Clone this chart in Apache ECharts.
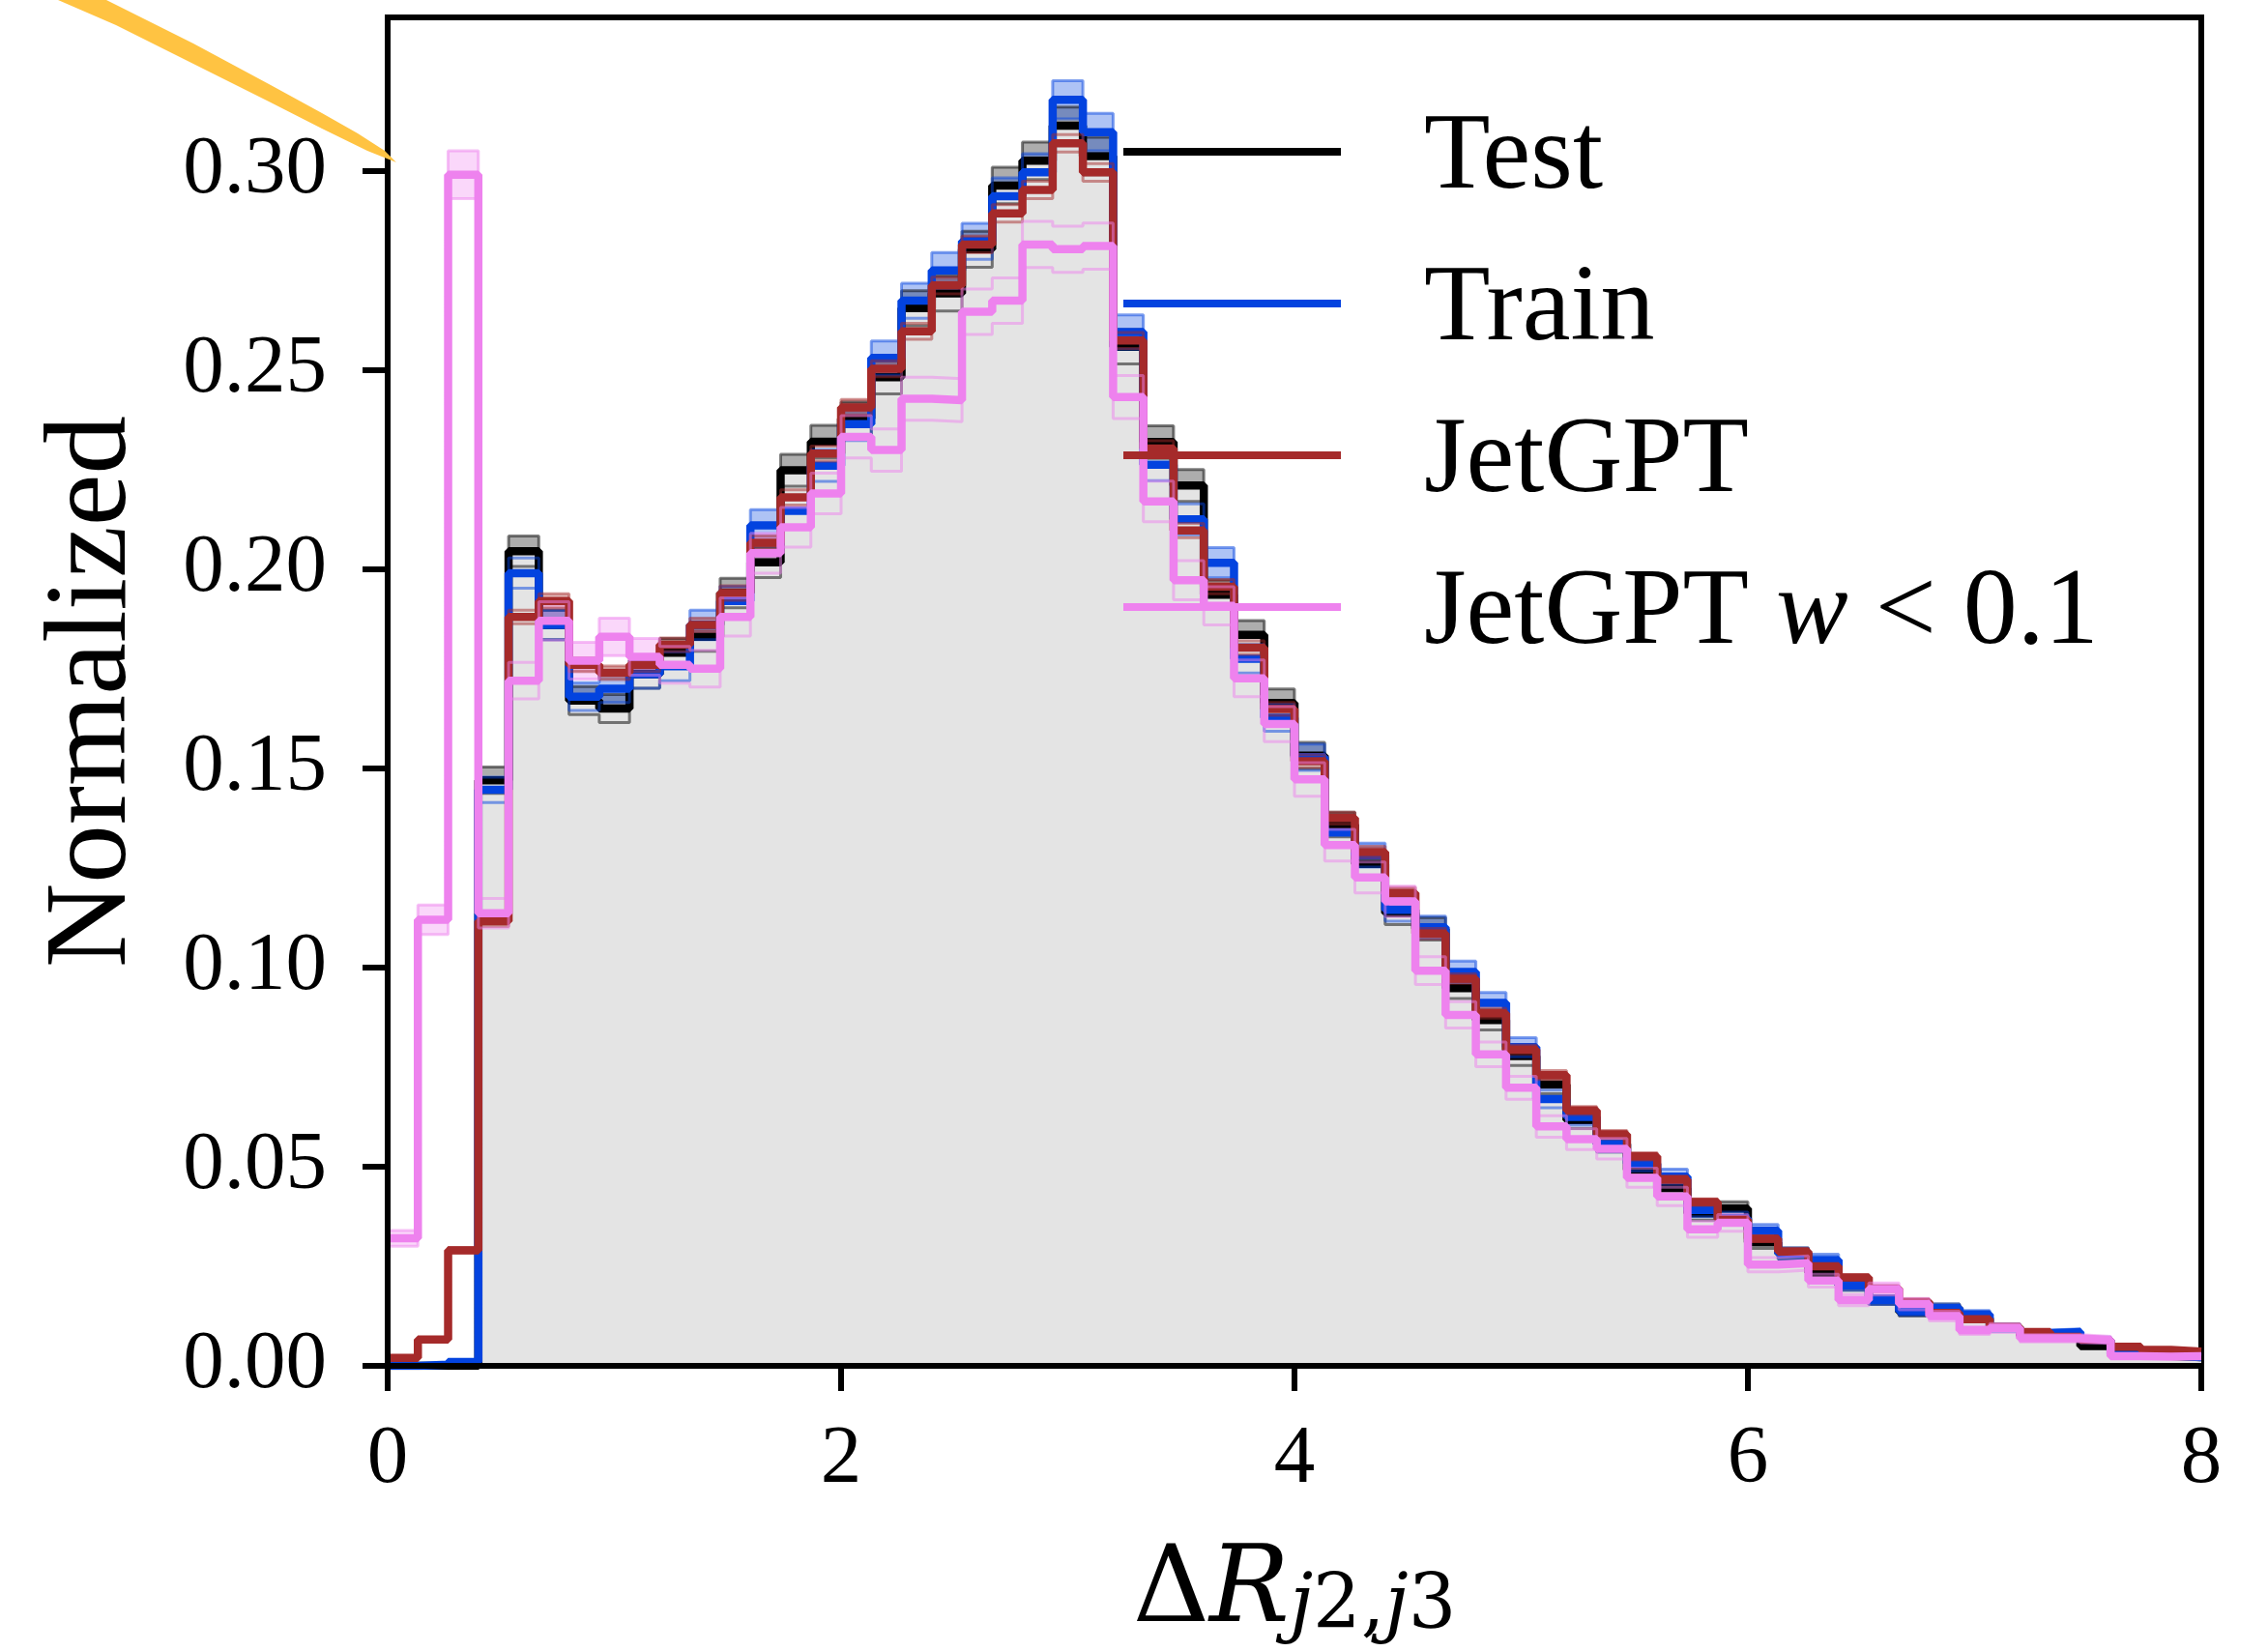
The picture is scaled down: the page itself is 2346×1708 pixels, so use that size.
<!DOCTYPE html>
<html>
<head>
<meta charset="utf-8">
<script src="https://cdn.jsdelivr.net/npm/echarts@6/dist/echarts.min.js"></script>
<style>
  html, body { margin: 0; padding: 0; background: #ffffff; }
  #chart { width: 2346px; height: 1708px; }
</style>
</head>
<body>
<div id="chart"></div>
<script>
// Histogram binning of ΔR(j2,j3): 60 equal bins on [0, 8]
const binRange = [0, 8];
const binCount = 60;

const xTicks = [0, 2, 4, 6, 8];
const yTicks = [0, 0.05, 0.10, 0.15, 0.20, 0.25, 0.30];

// Normalized bin contents
const testVals = [
  0, 0, 0, 0.147, 0.2045, 0.186, 0.167, 0.165, 0.1736, 0.179,
  0.183, 0.194, 0.2017, 0.2248, 0.232, 0.2378, 0.2482, 0.2655, 0.2692, 0.2803,
  0.2963, 0.3025, 0.3113, 0.3037, 0.2558, 0.2319, 0.221, 0.1936, 0.1835, 0.1664,
  0.1532, 0.1359, 0.126, 0.1137, 0.1097, 0.0948, 0.0868, 0.0778, 0.0706, 0.0617,
  0.0557, 0.0492, 0.0446, 0.0383, 0.0395, 0.031, 0.0282, 0.0234, 0.0202, 0.0165,
  0.0135, 0.0145, 0.012, 0.0097, 0.0075, 0.0073, 0.005, 0.0035, 0.0025, 0.0022
];
const trainVals = [
  0, 0.0003, 0.001, 0.1446, 0.199, 0.186, 0.168, 0.170, 0.1736, 0.1756,
  0.186, 0.192, 0.211, 0.2146, 0.226, 0.2364, 0.253, 0.2674, 0.275, 0.2823,
  0.2936, 0.2996, 0.3178, 0.3097, 0.2595, 0.2262, 0.2125, 0.2016, 0.1775, 0.1627,
  0.1528, 0.1339, 0.1282, 0.1145, 0.1101, 0.0989, 0.0911, 0.080, 0.067, 0.0625,
  0.0557, 0.0508, 0.0475, 0.0391, 0.037, 0.0339, 0.0282, 0.0266, 0.0202, 0.0165,
  0.0137, 0.0145, 0.0129, 0.0095, 0.0082, 0.0085, 0.0065, 0.0028, 0.0026, 0.0022
];
const jetVals = [
  0.002, 0.0066, 0.029, 0.1116, 0.188, 0.192, 0.176, 0.174, 0.176, 0.181,
  0.186, 0.194, 0.2066, 0.218, 0.229, 0.2406, 0.2503, 0.2597, 0.2712, 0.2815,
  0.2893, 0.2952, 0.3069, 0.2996, 0.2574, 0.2303, 0.2097, 0.1956, 0.1803, 0.1649,
  0.1518, 0.1375, 0.129, 0.1187, 0.1085, 0.0972, 0.0885, 0.0794, 0.073, 0.0641,
  0.0581, 0.0526, 0.0468, 0.0411, 0.0367, 0.0319, 0.0287, 0.025, 0.0222, 0.0194,
  0.0161, 0.0133, 0.0117, 0.0097, 0.0085, 0.0073, 0.0065, 0.0048, 0.004, 0.0036
];
const jetLowWVals = [
  0.032, 0.112, 0.299, 0.1136, 0.172, 0.187, 0.177, 0.183, 0.178, 0.176,
  0.175, 0.188, 0.204, 0.2105, 0.219, 0.2332, 0.2299, 0.2428, 0.2424, 0.2646,
  0.2674, 0.2815, 0.2803, 0.2811, 0.2432, 0.217, 0.1972, 0.1908, 0.1726, 0.1611,
  0.1472, 0.1307, 0.1226, 0.1166, 0.0992, 0.0881, 0.0782, 0.0698, 0.0601, 0.0569,
  0.0545, 0.0472, 0.0425, 0.0343, 0.0359, 0.0254, 0.0258, 0.0214, 0.0165, 0.0193,
  0.0155, 0.0125, 0.0089, 0.0095, 0.0069, 0.0069, 0.0065, 0.0024, 0.0023, 0.0024
];

// Per-bin uncertainty (half width of the shaded band)
const testErr = [
  0, 0, 0, 0.0033, 0.0038, 0.0037, 0.0035, 0.0035, 0.0035, 0.0036,
  0.0036, 0.0037, 0.0038, 0.0040, 0.0041, 0.0041, 0.0042, 0.0044, 0.0044, 0.0045,
  0.0046, 0.0047, 0.0047, 0.0047, 0.0043, 0.0041, 0.0040, 0.0037, 0.0036, 0.0035,
  0.0033, 0.0031, 0.0030, 0.0029, 0.0028, 0.0026, 0.0025, 0.0024, 0.0023, 0.0021,
  0.0020, 0.0019, 0.0018, 0.0017, 0.0017, 0.0015, 0.0014, 0.0013, 0.0012, 0.0011,
  0.0010, 0.0010, 0.0009, 0.0008, 0.0007, 0.0007, 0.0006, 0.0005, 0.0004, 0.0004
];
const trainErr = [
  0, 0.0002, 0.0003, 0.0032, 0.0038, 0.0037, 0.0035, 0.0035, 0.0035, 0.0036,
  0.0037, 0.0037, 0.0039, 0.0039, 0.0040, 0.0041, 0.0043, 0.0044, 0.0045, 0.0045,
  0.0046, 0.0047, 0.0048, 0.0047, 0.0043, 0.0040, 0.0039, 0.0038, 0.0036, 0.0034,
  0.0033, 0.0031, 0.0030, 0.0029, 0.0028, 0.0027, 0.0026, 0.0024, 0.0022, 0.0021,
  0.0020, 0.0019, 0.0019, 0.0017, 0.0016, 0.0016, 0.0014, 0.0014, 0.0012, 0.0011,
  0.0010, 0.0010, 0.0010, 0.0008, 0.0008, 0.0008, 0.0007, 0.0004, 0.0004, 0.0004
];
const jetErr = [
  0.0002, 0.0003, 0.0007, 0.0013, 0.0017, 0.0018, 0.0017, 0.0017, 0.0017, 0.0017,
  0.0017, 0.0018, 0.0018, 0.0019, 0.0019, 0.0020, 0.0020, 0.0020, 0.0021, 0.0021,
  0.0022, 0.0022, 0.0022, 0.0022, 0.0020, 0.0019, 0.0018, 0.0018, 0.0017, 0.0016,
  0.0016, 0.0015, 0.0014, 0.0014, 0.0013, 0.0012, 0.0012, 0.0011, 0.0011, 0.0010,
  0.0010, 0.0009, 0.0009, 0.0008, 0.0008, 0.0007, 0.0007, 0.0006, 0.0006, 0.0006,
  0.0005, 0.0005, 0.0004, 0.0004, 0.0004, 0.0003, 0.0003, 0.0003, 0.0003, 0.0002
];
const jetLowWErr = [
  0.0020, 0.0037, 0.0060, 0.0037, 0.0046, 0.0048, 0.0046, 0.0047, 0.0046, 0.0046,
  0.0046, 0.0048, 0.0050, 0.0050, 0.0051, 0.0053, 0.0053, 0.0054, 0.0054, 0.0057,
  0.0057, 0.0058, 0.0058, 0.0058, 0.0054, 0.0051, 0.0049, 0.0048, 0.0046, 0.0044,
  0.0042, 0.0040, 0.0039, 0.0038, 0.0035, 0.0033, 0.0031, 0.0029, 0.0027, 0.0026,
  0.0026, 0.0024, 0.0023, 0.0020, 0.0021, 0.0018, 0.0018, 0.0016, 0.0014, 0.0015,
  0.0014, 0.0012, 0.0010, 0.0011, 0.0009, 0.0009, 0.0009, 0.0005, 0.0005, 0.0005
];

const seriesNames = ['Test', 'Train', 'JetGPT', 'JetGPT w < 0.1'];
const seriesColors = ['#000000', '#0343df', '#a52a2a', '#ee82ee'];

const FONT = '"Liberation Serif", "DejaVu Serif", serif';
const MATH_FONT = '"DejaVu Serif", "Liberation Serif", serif';

const binEdges = [];
for (let i = 0; i <= binCount; i++) {
  binEdges.push(binRange[0] + (binRange[1] - binRange[0]) * i / binCount);
}

// Histogram outline: one point per left edge, plus the final right edge
function stepPoints(vals) {
  const pts = vals.map((v, i) => [binEdges[i], v]);
  pts.push([binEdges[binCount], vals[binCount - 1]]);
  return pts;
}

function hexToRgba(hex, a) {
  const n = parseInt(hex.slice(1), 16);
  return 'rgba(' + ((n >> 16) & 255) + ',' + ((n >> 8) & 255) + ',' + (n & 255) + ',' + a + ')';
}

function histogramSeries(name, color, vals, errs) {
  const lo = vals.map((v, i) => Math.max(0, v - errs[i]));
  const hi = vals.map((v, i) => v + errs[i]);
  const bandData = vals.map((v, i) => [binEdges[i], binEdges[i + 1], hi[i], lo[i]]);
  const edgeLine = (d) => ({
    type: 'line', data: stepPoints(d), step: 'end', symbol: 'none', silent: true,
    lineStyle: { width: 3, color: hexToRgba(color, 0.5) }, animation: false
  });
  return [
    {
      type: 'custom', silent: true, animation: false, clip: true,
      data: bandData,
      encode: { x: [0, 1], y: [2, 3] },
      renderItem: function (params, api) {
        const p0 = api.coord([api.value(0), api.value(2)]);
        const p1 = api.coord([api.value(1), api.value(3)]);
        return {
          type: 'rect',
          shape: { x: p0[0], y: p0[1], width: p1[0] - p0[0], height: p1[1] - p0[1] },
          style: { fill: hexToRgba(color, 0.32) }
        };
      }
    },
    edgeLine(lo),
    edgeLine(hi),
    {
      type: 'line', name: name, data: stepPoints(vals), step: 'end', symbol: 'none',
      color: color, itemStyle: { color: color },
      lineStyle: { width: 8.5, color: color }, animation: false
    }
  ];
}

const series = [
  {
    type: 'line', data: stepPoints(testVals), step: 'end', symbol: 'none', silent: true,
    lineStyle: { width: 0, opacity: 0 },
    areaStyle: { color: '#e4e4e4', opacity: 1 }, animation: false
  }
]
  .concat(histogramSeries(seriesNames[0], seriesColors[0], testVals, testErr))
  .concat(histogramSeries(seriesNames[1], seriesColors[1], trainVals, trainErr))
  .concat(histogramSeries(seriesNames[2], seriesColors[2], jetVals, jetErr))
  .concat(histogramSeries(seriesNames[3], seriesColors[3], jetLowWVals, jetLowWErr));

const chart = echarts.init(document.getElementById('chart'), null, { renderer: 'canvas' });

chart.setOption({
  animation: false,
  backgroundColor: '#ffffff',
  grid: {
    left: 401, right: 69, top: 18, bottom: 291,
    show: true, borderColor: '#000000', borderWidth: 6, backgroundColor: 'transparent'
  },
  xAxis: {
    type: 'value', min: binRange[0], max: binRange[1], interval: 2, z: 5,
    axisLine: { show: true, onZero: false, lineStyle: { color: '#000', width: 6 } },
    axisTick: { show: true, length: 26, lineStyle: { color: '#000', width: 6 }, customValues: xTicks },
    axisLabel: {
      color: '#000', fontFamily: FONT, fontSize: 85, margin: 55, customValues: xTicks,
      formatter: (v) => String(v)
    },
    splitLine: { show: false },
    name: '{d|Δ}{r|R}{j|j}{n|2,}{j|j}{n|3}',
    nameLocation: 'middle',
    nameGap: 160,
    nameTextStyle: {
      color: '#000', fontFamily: MATH_FONT,
      rich: {
        d: { fontSize: 110, fontFamily: MATH_FONT, color: '#000', lineHeight: 130, verticalAlign: 'bottom' },
        r: { fontSize: 110, fontFamily: MATH_FONT, fontStyle: 'italic', color: '#000', lineHeight: 130, verticalAlign: 'bottom' },
        j: { fontSize: 78, fontFamily: MATH_FONT, fontStyle: 'italic', color: '#000', lineHeight: 60, verticalAlign: 'bottom' },
        n: { fontSize: 78, fontFamily: MATH_FONT, color: '#000', lineHeight: 60, verticalAlign: 'bottom' }
      }
    }
  },
  yAxis: {
    type: 'value', min: 0, max: 0.3385, interval: 0.05, z: 5,
    axisLine: { show: true, onZero: false, lineStyle: { color: '#000', width: 6 } },
    axisTick: { show: true, length: 26, lineStyle: { color: '#000', width: 6 }, customValues: yTicks },
    axisLabel: {
      color: '#000', fontFamily: FONT, fontSize: 85, margin: 63, customValues: yTicks,
      formatter: (v) => v.toFixed(2)
    },
    splitLine: { show: false },
    name: 'Normalized',
    nameLocation: 'middle',
    nameRotate: 90,
    nameGap: 243,
    nameTextStyle: { color: '#000', fontFamily: FONT, fontSize: 121 }
  },
  legend: {
    data: seriesNames,
    orient: 'vertical',
    left: 1162, top: 93,
    padding: 0,
    itemGap: 29,
    itemWidth: 225, itemHeight: 8,
    icon: 'rect',
    selectedMode: false,
    formatter: function (name) {
      if (name === 'JetGPT w < 0.1') return '{g|}{t|JetGPT }{i|w}{t| < 0.1}';
      return '{g|}{t|' + name + '}';
    },
    textStyle: {
      color: '#000', fontFamily: FONT, fontSize: 112, lineHeight: 112,
      rich: {
        g: { width: 81 },
        t: { fontSize: 112, fontFamily: FONT, color: '#000', lineHeight: 112, padding: [16, 0, 0, 0] },
        i: { fontSize: 112, fontFamily: FONT, fontStyle: 'italic', color: '#000', lineHeight: 112, padding: [16, 0, 0, 0] }
      }
    }
  },
  graphic: [
    {
      type: 'polygon', z: 100, silent: true,
      shape: {
        points: [[60, 0], [110, 0], [200, 45], [280, 88], [333, 117], [370, 138], [398, 156],
                 [410, 168], [380, 156], [333, 133], [280, 106], [200, 66], [120, 26]]
      },
      style: { fill: '#ffc342' }
    }
  ],
  series: series
});
</script>
</body>
</html>
